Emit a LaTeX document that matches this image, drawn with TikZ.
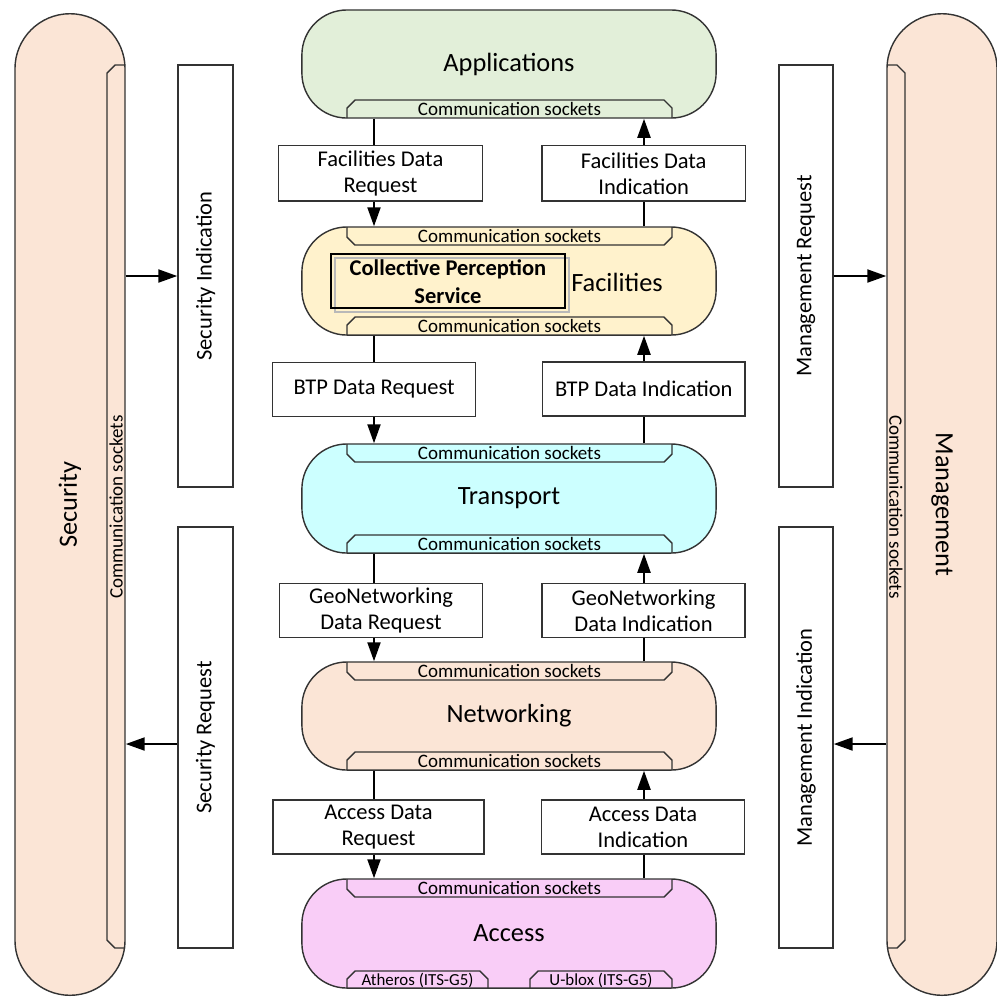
\documentclass[tikz,border=0pt]{standalone}
\usepackage{fontspec}
\setmainfont{Carlito}
\usetikzlibrary{arrows.meta}
\definecolor{appgreen}{HTML}{E2EFD9}
\definecolor{facyellow}{HTML}{FFF2CC}
\definecolor{transcyan}{HTML}{CCFFFF}
\definecolor{netpeach}{HTML}{FBE5D6}
\definecolor{accpink}{HTML}{F9CDF7}
\begin{document}
\begin{tikzpicture}[x=0.01cm,y=-0.01cm,
	layer/.style={draw=black!80,line width=0.4pt,rounded corners=0.45cm,minimum width=4.14cm,minimum height=1.08cm,font=\fontsize{7.5}{9}\selectfont},
	sidebar/.style={draw=black!80,fill=netpeach,line width=0.4pt,rounded corners=0.55cm,minimum width=9.81cm,minimum height=1.1cm,font=\fontsize{7.5}{9}\selectfont},
	prim/.style={draw=black!80,fill=white,line width=0.4pt,inner sep=0pt,align=center,font=\fontsize{6.4}{7.4}\selectfont},
	sock/.style={draw=black!80,line width=0.4pt},
	socktext/.style={inner sep=0pt,font=\fontsize{5.4}{6}\selectfont},
	minitext/.style={inner sep=0pt,font=\fontsize{4.8}{5.5}\selectfont},
	link/.style={line width=0.6pt},
	arr/.style={line width=0.6pt,-{Triangle[length=0.19cm,width=0.13cm]}}]
\useasboundingbox (0,0) rectangle (997,996);
% side bars
\node[sidebar,rotate=90] (sec) at (70,504.5) {Security};
\node[sidebar,rotate=-90] (mgmt) at (942,504.5) {Management};
\draw[sock] (125,65) -- (115,65) -- (107,73) -- (107,940) -- (115,948) -- (125,948);
\draw[sock] (887,65) -- (897,65) -- (905,73) -- (905,940) -- (897,948) -- (887,948);
\node[socktext,rotate=90] (secsock) at (116,507) {Communication sockets};
\node[socktext,rotate=-90] (mgmtsock) at (896,507) {Communication sockets};
% layers
\node[layer,fill=appgreen] (app) at (509,64) {Applications};
\node[layer,fill=facyellow] (fac) at (509,281) {};
\node[layer,fill=transcyan,minimum height=1.09cm] (trans) at (509,498.5) {Transport};
\node[layer,fill=netpeach] (net) at (509,716) {Networking};
\node[layer,fill=accpink,minimum height=1.09cm] (acc) at (509,933.5) {Access};
\node[font=\fontsize{7.5}{9}\selectfont] (facname) at (617,282) {Facilities};
% sockets
\foreach \y [count=\n] in {118,335,553,770}{
	\draw[sock] (347,\y) -- (347,\y-10) -- (355,\y-18) -- (664,\y-18) -- (672,\y-10) -- (672,\y);
	\node[socktext] (sockbot\n) at (509.5,\y-9) {Communication sockets};
}
\foreach \y [count=\n] in {227,444,662,879}{
	\draw[sock] (347,\y) -- (347,\y+10) -- (355,\y+18) -- (664,\y+18) -- (672,\y+10) -- (672,\y);
	\node[socktext] (socktop\n) at (509.5,\y+9) {Communication sockets};
}
\draw[sock] (347,988) -- (347,979) -- (355,971) -- (480,971) -- (488,979) -- (488,988);
\draw[sock] (530,988) -- (530,979) -- (538,971) -- (664,971) -- (672,979) -- (672,988);
\node[minitext] (atheros) at (417.5,980) {Atheros (ITS-G5)};
\node[minitext] (ublox) at (601,980) {U-blox (ITS-G5)};
% collective perception service
\draw[gray!55,line width=0.6pt] (335,258) rectangle (569,312);
\node[draw=black,line width=0.6pt,minimum width=2.34cm,minimum height=0.54cm,inner sep=0pt,align=center,
	font=\fontsize{6.4}{7.9}\selectfont\bfseries] (cps) at (448,281.3) {Collective Perception\\Service};
% primitives
\node[prim,minimum width=2.04cm,minimum height=0.55cm] (facreq) at (380.5,173.3) {Facilities Data\\Request};
\node[prim,minimum width=2.03cm,minimum height=0.55cm] (facind) at (643.7,173.3) {Facilities Data\\Indication};
\node[prim,minimum width=2.03cm,minimum height=0.54cm] (btpreq) at (374.2,389.3) {BTP Data Request};
\node[prim,minimum width=2.02cm,minimum height=0.54cm] (btpind) at (643.8,389) {BTP Data Indication};
\node[prim,minimum width=2.03cm,minimum height=0.54cm] (georeq) at (381,610.5) {GeoNetworking\\Data Request};
\node[prim,minimum width=2.03cm,minimum height=0.54cm] (geoind) at (643.5,610.3) {GeoNetworking\\Data Indication};
\node[prim,minimum width=2.11cm,minimum height=0.54cm] (accreq) at (378.5,827) {Access Data\\Request};
\node[prim,minimum width=2.03cm,minimum height=0.54cm] (accind) at (643,827) {Access Data\\Indication};
\node[prim,rotate=90,minimum width=4.22cm,minimum height=0.55cm] (secind) at (205.5,276) {Security Indication};
\node[prim,rotate=90,minimum width=4.21cm,minimum height=0.55cm] (secreq) at (205.5,737.5) {Security Request};
\node[prim,rotate=90,minimum width=4.22cm,minimum height=0.54cm] (mgmtreq) at (806,276) {Management Request};
\node[prim,rotate=90,minimum width=4.21cm,minimum height=0.54cm] (mgmtind) at (806,737.5) {Management Indication};
% connectors
\coordinate (lx) at (374,0);
\coordinate (rx) at (644,0);
\foreach \u/\l/\q/\i in {app/fac/facreq/facind,fac/trans/btpreq/btpind,trans/net/georeq/geoind,net/acc/accreq/accind}{
	\draw[link] (\u.south -| lx) -- (\q.north -| lx);
	\draw[arr] (\q.south -| lx) -- (\l.north -| lx);
	\draw[link] (\l.north -| rx) -- (\i.south -| rx);
	\draw[arr] (\i.north -| rx) -- (\u.south -| rx);
}
\coordinate (sra) at ([yshift=-0.065cm]secreq.north);
\coordinate (mia) at ([yshift=-0.065cm]mgmtind.south);
\draw[arr] (secind.north -| sec.south) -- (secind.north);
\draw[arr] (sra) -- (sra -| sec.south);
\draw[arr] (mgmtreq.south) -- (mgmtreq.south -| mgmt.south);
\draw[arr] (mia -| mgmt.south) -- (mia);
\end{tikzpicture}
\end{document}
